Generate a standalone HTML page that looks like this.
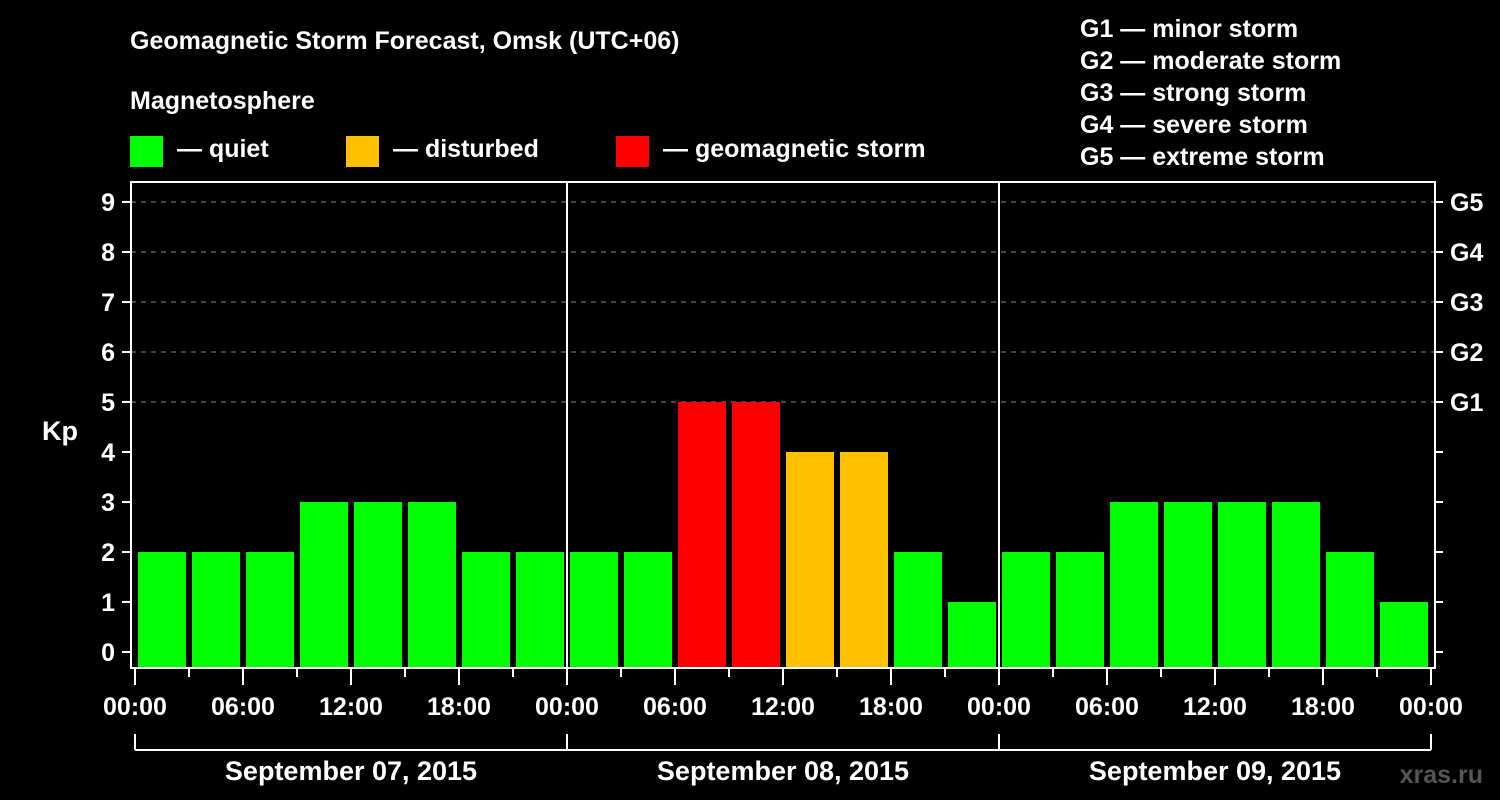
<!DOCTYPE html>
<html><head><meta charset="utf-8"><style>
html,body{margin:0;padding:0;background:#000;width:1500px;height:800px;overflow:hidden}
svg{display:block;font-family:"Liberation Sans",sans-serif;font-weight:bold}
</style></head><body>
<svg id="chart" width="1500" height="800">
<text x="130" y="49" fill="#fff" font-size="25">Geomagnetic Storm Forecast, Omsk (UTC+06)</text>
<text x="130" y="109" fill="#fff" font-size="25">Magnetosphere</text>
<g><rect x="130" y="136" width="33" height="31" fill="#00ff00"/><text x="177" y="157" fill="#fff" font-size="25">— quiet</text></g>
<g><rect x="346" y="136" width="33" height="31" fill="#ffc000"/><text x="393" y="157" fill="#fff" font-size="25">— disturbed</text></g>
<g><rect x="616" y="136" width="33" height="31" fill="#ff0000"/><text x="663" y="157" fill="#fff" font-size="25">— geomagnetic storm</text></g>
<g fill="#fff" font-size="25">
<text x="1080" y="37">G1 — minor storm</text><text x="1080" y="69">G2 — moderate storm</text><text x="1080" y="101">G3 — strong storm</text><text x="1080" y="133">G4 — severe storm</text><text x="1080" y="165">G5 — extreme storm</text></g>
<text x="42" y="440" fill="#fff" font-size="27">Kp</text>
<text x="1483" y="783" fill="#555" font-size="25" text-anchor="end">xras.ru</text>
<g id="grid"></g><g id="bars"></g><g id="axes"></g>
</svg>
<script>
const kpValues=[2,2,2,3,3,3,2,2, 2,2,5,5,4,4,2,1, 2,2,3,3,3,3,2,1];
const dayLabels=["September 07, 2015","September 08, 2015","September 09, 2015"];
const hourLabels=["00:00","06:00","12:00","18:00"];
const gLabels=["G1","G2","G3","G4","G5"];
const yTicks=[0,1,2,3,4,5,6,7,8,9];
const NS="http://www.w3.org/2000/svg";
const X0=135,SLOT=54,Y0=652,YS=50,LEFT=131,RIGHT=1435,TOP=182,BOT=668;
const xs=i=>X0+i*SLOT, ys=v=>Y0-v*YS;
function mk(t,a,p,txt){const e=document.createElementNS(NS,t);for(const k in a)e.setAttribute(k,a[k]);if(txt!==undefined)e.textContent=txt;p.appendChild(e);return e;}
const grid=document.getElementById('grid'),bars=document.getElementById('bars'),axes=document.getElementById('axes');
yTicks.forEach(v=>{if(v>=5){const l=mk('line',{x1:LEFT,x2:RIGHT,y1:ys(v),y2:ys(v),stroke:'#888','stroke-dasharray':'5,5','stroke-width':1},grid);

}});
kpValues.forEach((v,i)=>{const c=v>=5?'#ff0000':v>=4?'#ffc000':'#00ff00';
const r=mk('rect',{x:xs(i)+3,y:ys(v),width:48,height:BOT-ys(v),fill:c},bars);

});
mk('rect',{x:LEFT,y:TOP,width:RIGHT-LEFT,height:BOT-TOP,fill:'none',stroke:'#fff','stroke-width':2},axes);
for(let d=1;d<dayLabels.length;d++){mk('line',{x1:xs(d*8),x2:xs(d*8),y1:TOP,y2:BOT,stroke:'#fff','stroke-width':2},axes);}
yTicks.forEach(v=>{mk('line',{x1:122,x2:LEFT,y1:ys(v),y2:ys(v),stroke:'#fff','stroke-width':2},axes);
mk('line',{x1:RIGHT,x2:1443,y1:ys(v),y2:ys(v),stroke:'#fff','stroke-width':2},axes);
const t=mk('text',{x:115,y:ys(v)+9,fill:'#fff','font-size':25,'text-anchor':'end'},axes,String(v));

});
gLabels.forEach((g,i)=>{const t=mk('text',{x:1450,y:ys(5+i)+9,fill:'#fff','font-size':25},axes,g);

});
for(let i=0;i<=kpValues.length;i++){const major=i%2===0;
mk('line',{x1:xs(i),x2:xs(i),y1:BOT,y2:major?685:677,stroke:'#fff','stroke-width':2},axes);
if(major){const t=mk('text',{x:xs(i),y:715,fill:'#fff','font-size':25,'text-anchor':'middle'},axes,hourLabels[(i/2)%4]);

}}
mk('line',{x1:xs(0),x2:xs(kpValues.length),y1:750,y2:750,stroke:'#fff','stroke-width':2},axes);
for(let d=0;d<=dayLabels.length;d++)mk('line',{x1:xs(d*8),x2:xs(d*8),y1:734,y2:750,stroke:'#fff','stroke-width':2},axes);
dayLabels.forEach((s,d)=>{const t=mk('text',{x:xs(d*8+4),y:780,fill:'#fff','font-size':27,'text-anchor':'middle'},axes,s);

});
</script>
</body></html>
